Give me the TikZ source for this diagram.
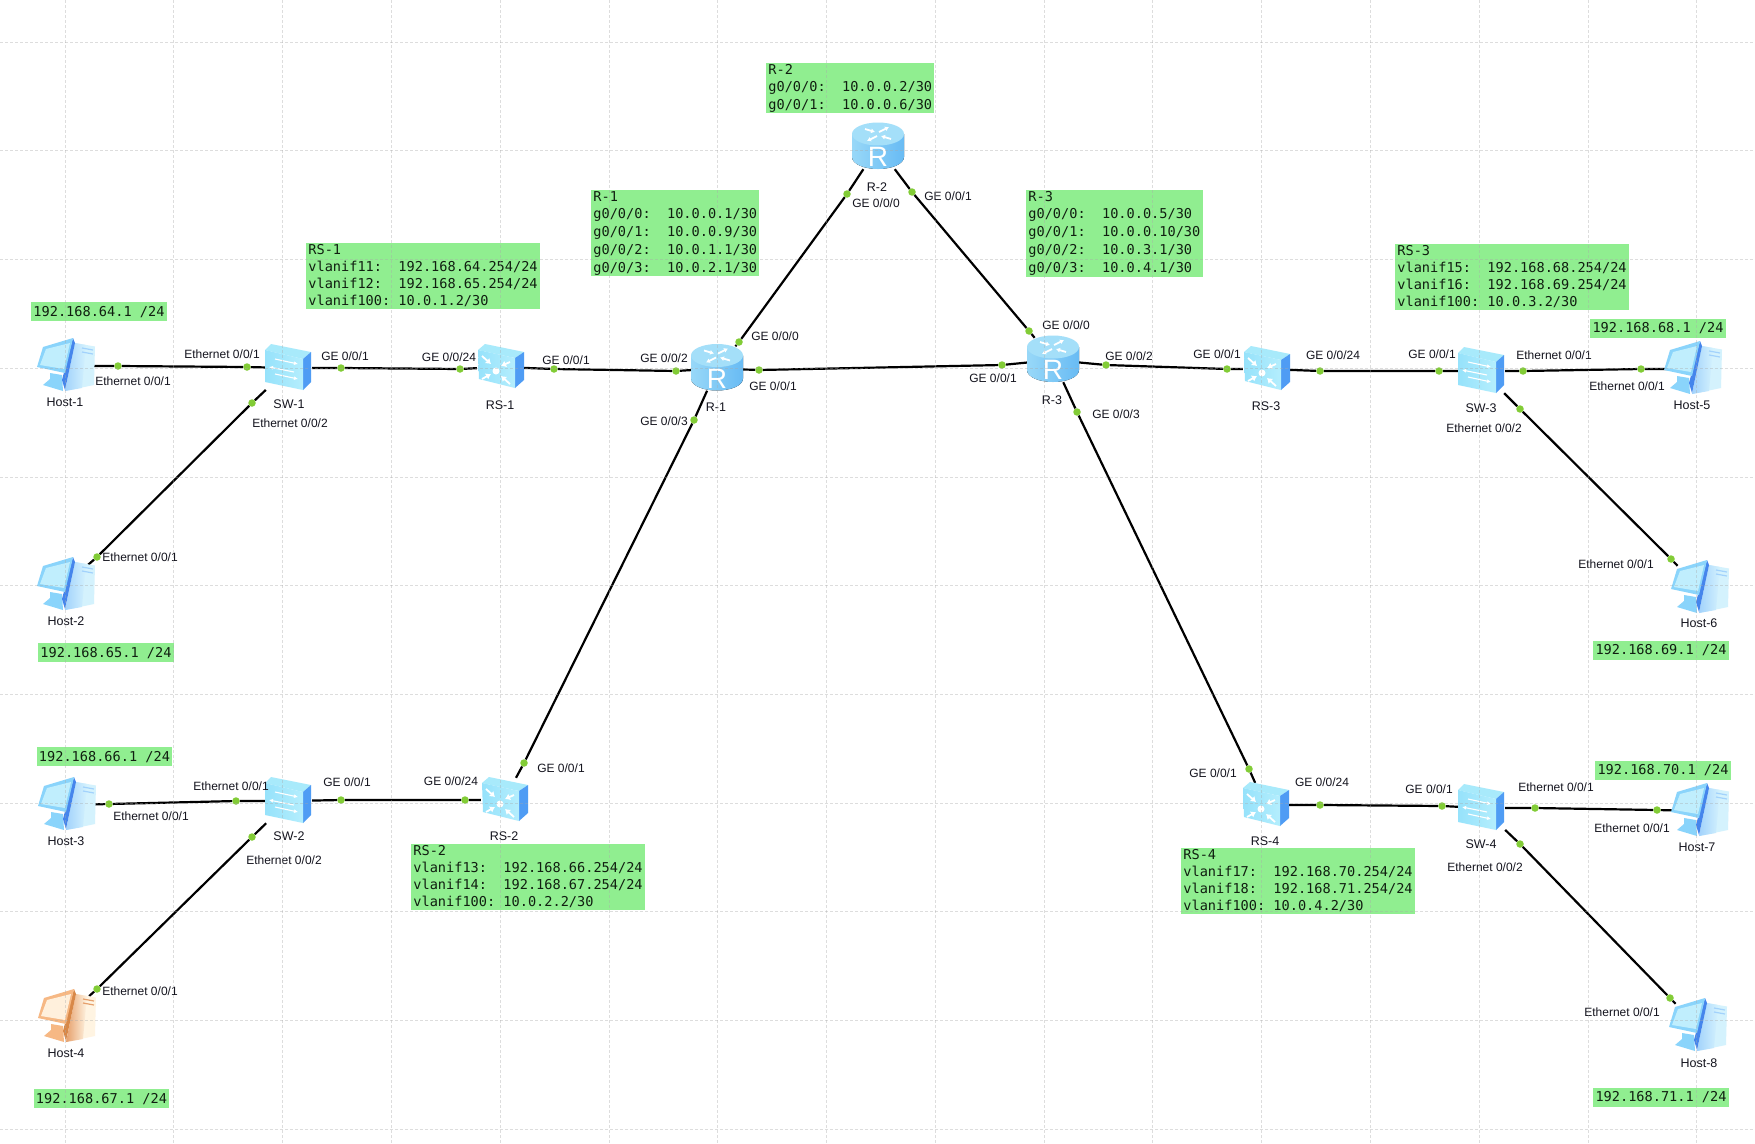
\documentclass[tikz,border=0pt]{standalone}
\usepackage{fontspec}
\setmainfont{Liberation Sans}
\newfontfamily\ipfont{DejaVu Sans Mono}
\usepackage{tikz}
\usetikzlibrary{arrows.meta}
\definecolor{verdecaja}{HTML}{90EE90}
\definecolor{verdepunto}{HTML}{82CC36}
\definecolor{rejilla}{HTML}{A8A8A8}
\definecolor{textoport}{HTML}{14141E}
\definecolor{textoip}{HTML}{101E10}
\definecolor{routertop}{HTML}{A4DFF9}
\definecolor{routerleft}{HTML}{98D8F8}
\definecolor{routerright}{HTML}{68BBF4}
\definecolor{swtop}{HTML}{A8EAFB}
\definecolor{swfront}{HTML}{96E2FB}
\definecolor{swfrontb}{HTML}{B4EEFD}
\definecolor{swside}{HTML}{4F9CF4}
\definecolor{hostpale}{HTML}{D4F2FD}
\definecolor{hostscreen}{HTML}{C0EEFD}
\definecolor{hostframe}{HTML}{8AD4FB}
\definecolor{hoststrip}{HTML}{4585EC}
\definecolor{hosttower}{HTML}{A2D2FC}
\newcommand{\filabox}{\rule[-2.8pt]{0pt}{17pt}}
\newcommand{\filaip}{\rule[-4pt]{0pt}{17pt}}
\tikzset{
  gridline/.style={rejilla,dash pattern=on 3pt off 2pt,line width=.8pt,opacity=.38},
  link/.style={black,line width=2.2pt},
  portdot/.style={circle,fill=verdepunto,inner sep=0pt,minimum size=7.5pt},
  devbox/.style={inner sep=0pt,minimum width=46pt,minimum height=44pt},
  devname/.style={inner sep=0pt,text=textoport,font=\fontsize{12.5}{14}\selectfont,text height=9pt,text depth=0pt},
  portword/.style={inner sep=0pt,text=textoport,font=\fontsize{12}{14}\selectfont,text height=9pt,text depth=0pt},
  greenbox/.style={fill=verdecaja,text=textoip,inner xsep=2.2pt,inner ysep=1pt,
    font=\ipfont\fontsize{13.6}{17}\selectfont},
  ipbox/.style={greenbox,execute at begin node=\filaip},
  infobox/.style={greenbox,anchor=north west,align=left,execute at begin node=\filabox},
  routerpic/.pic={
    \fill[left color=routerleft,right color=routerright] (-26,-13) -- (-26,10)
      .. controls (-26,17) and (-14,22) .. (0,22)
      .. controls (14,22) and (26,17) .. (26,10) -- (26,-13) -- cycle;
    \fill[routertop] (0,-13) ellipse[x radius=26,y radius=11.5];
    \draw[white,line width=1.8pt,-{Latex[length=4pt,width=5pt]}] (-13,-18) -- (-3,-15);
    \draw[white,line width=1.8pt,-{Latex[length=4pt,width=5pt]}] (13,-8) -- (3,-11);
    \draw[white,line width=1.8pt,-{Latex[length=4pt,width=5pt]}] (-1,-11) -- (-11,-6);
    \draw[white,line width=1.8pt,-{Latex[length=4pt,width=5pt]}] (1,-15) -- (11,-20);
    \node[inner sep=0pt,text=white,font=\fontsize{28}{28}\selectfont] (-letra) at (0,10) {R};
  },
  swpic/.pic={
    \fill[swtop] (-24,-18) -- (-18,-24) -- (22,-16) -- (14,-9) -- cycle;
    \fill[swside] (14,-9) -- (22,-16) -- (22,14) -- (14,22) -- cycle;
    \shade[left color=swfront,right color=swfrontb] (-24,-18) -- (14,-9) -- (14,22) -- (-24,14) -- cycle;
    \draw[white,line width=1.1pt,-{Latex[length=4pt,width=4pt]}] (-14,-9) -- (9,-4);
    \draw[white,line width=1.1pt,{Latex[length=4pt,width=4pt]}-] (-20,-1) -- (5,4);
    \draw[white,line width=1.1pt,-{Latex[length=4pt,width=4pt]}] (-14,6) -- (9,11);
  },
  rspic/.pic={
    \fill[swtop] (-22,-17) -- (-15,-23) -- (24,-15) -- (15,-9) -- cycle;
    \fill[swside] (15,-9) -- (24,-15) -- (24,13) -- (15,21) -- cycle;
    \shade[left color=swfront,right color=swfrontb] (-22,-17) -- (15,-9) -- (15,21) -- (-21,12) -- cycle;
    \fill[white] (-4,4) circle[radius=3.5];
    \draw[white,line width=1.8pt,-{Latex[length=5pt,width=7pt]}] (-18,-11) -- (-9,-3);
    \draw[white,line width=1.8pt,-{Latex[length=5pt,width=7pt]}] (10,-5) -- (1,-1);
    \draw[white,line width=1.8pt,-{Latex[length=5pt,width=7pt]}] (-18,12) -- (-9,7);
    \draw[white,line width=1.8pt,-{Latex[length=5pt,width=7pt]}] (10,17) -- (1,9);
  },
  hostpic/.pic={
    \fill[hostpale] (10,-23) -- (30,-19.5) -- (29,19) -- (0,25) -- cycle;
    \shade[left color=hosttower,right color=hostpale] (10,-23) -- (21,-21) -- (17,22) -- (0,25) -- cycle;
    \draw[hosttower,line width=1.2pt] (17,-18) -- (28,-16) (17,-14) -- (28,-12);
    \fill[hostframe] (-15,7) -- (-3,9) -- (-2,25) -- (-22,19) -- (-15,13) -- cycle;
    \fill[hoststrip] (8,-28) -- (10,-23) -- (0,24) -- (-3,14) -- cycle;
    \fill[hostframe] (-22,-19) -- (8,-28) -- (0,7) -- (-28,1) -- cycle;
    \fill[hostscreen] (-19,-17) -- (5,-23) -- (-1,3) -- (-25,-1) -- cycle;
  }
}
\begin{document}
\begin{tikzpicture}[x=1pt,y=-1pt]
\fill[white] (0,0) rectangle (1755,1143);
\useasboundingbox (0,0) rectangle (1755,1143);

\node[devbox] (h1) at (65,366) {};
\node[devbox] (h2) at (65,585) {};
\node[devbox] (h3) at (66,805) {};
\node[devbox] (h4) at (66,1017) {};
\node[devbox] (h5) at (1692,369) {};
\node[devbox] (h6) at (1699,588) {};
\node[devbox] (h7) at (1699,811) {};
\node[devbox] (h8) at (1697,1026) {};
\node[devbox] (sw1) at (289,368) {};
\node[devbox] (sw2) at (289,801) {};
\node[devbox] (sw3) at (1482,371) {};
\node[devbox] (sw4) at (1482,808) {};
\node[devbox] (rs1) at (500,367) {};
\node[devbox] (rs2) at (504,800) {};
\node[devbox] (rs3) at (1266,369) {};
\node[devbox] (rs4) at (1265,805) {};
\node[devbox] (r1) at (717,368.5) {};
\node[devbox] (r2) at (878,147) {};
\node[devbox] (r3) at (1053,360) {};

\node[portdot] (d1a) at (118,366) {};
\node[portdot] (d1b) at (247,367) {};
\node[portdot] (d2a) at (341,368) {};
\node[portdot] (d2b) at (460,369) {};
\node[portdot] (d3a) at (554,369) {};
\node[portdot] (d3b) at (676,371) {};
\node[portdot] (d4a) at (739,342) {};
\node[portdot] (d4b) at (847,194) {};
\node[portdot] (d5a) at (912,192) {};
\node[portdot] (d5b) at (1029,331) {};
\node[portdot] (d6a) at (759,370) {};
\node[portdot] (d6b) at (1002,365) {};
\node[portdot] (d7a) at (694,420) {};
\node[portdot] (d7b) at (524,763) {};
\node[portdot] (d8a) at (1106,365) {};
\node[portdot] (d8b) at (1227,369) {};
\node[portdot] (d9a) at (1320,371) {};
\node[portdot] (d9b) at (1439,371) {};
\node[portdot] (d10a) at (1523,371) {};
\node[portdot] (d10b) at (1641,369) {};
\node[portdot] (d11a) at (1520,409) {};
\node[portdot] (d11b) at (1671,559) {};
\node[portdot] (d12a) at (252,403) {};
\node[portdot] (d12b) at (97,557) {};
\node[portdot] (d13a) at (109,804) {};
\node[portdot] (d13b) at (236,801) {};
\node[portdot] (d14a) at (341,800) {};
\node[portdot] (d14b) at (465,800) {};
\node[portdot] (d15a) at (252,837) {};
\node[portdot] (d15b) at (97,989) {};
\node[portdot] (d16a) at (1077,412) {};
\node[portdot] (d16b) at (1249,769) {};
\node[portdot] (d17a) at (1320,805) {};
\node[portdot] (d17b) at (1442,806) {};
\node[portdot] (d18a) at (1535,808) {};
\node[portdot] (d18b) at (1657,810) {};
\node[portdot] (d19a) at (1520,844) {};
\node[portdot] (d19b) at (1670,998) {};

\draw[link] (h1)--(d1a)--(d1b)--(sw1);
\draw[link] (sw1)--(d2a)--(d2b)--(rs1);
\draw[link] (rs1)--(d3a)--(d3b)--(r1);
\draw[link] (r1)--(d4a)--(d4b)--(r2);
\draw[link] (r2)--(d5a)--(d5b)--(r3);
\draw[link] (r1)--(d6a)--(d6b)--(r3);
\draw[link] (r1)--(d7a)--(d7b)--(rs2);
\draw[link] (r3)--(d8a)--(d8b)--(rs3);
\draw[link] (rs3)--(d9a)--(d9b)--(sw3);
\draw[link] (sw3)--(d10a)--(d10b)--(h5);
\draw[link] (sw3)--(d11a)--(d11b)--(h6);
\draw[link] (sw1)--(d12a)--(d12b)--(h2);
\draw[link] (h3)--(d13a)--(d13b)--(sw2);
\draw[link] (sw2)--(d14a)--(d14b)--(rs2);
\draw[link] (sw2)--(d15a)--(d15b)--(h4);
\draw[link] (r3)--(d16a)--(d16b)--(rs4);
\draw[link] (rs4)--(d17a)--(d17b)--(sw4);
\draw[link] (sw4)--(d18a)--(d18b)--(h7);
\draw[link] (sw4)--(d19a)--(d19b)--(h8);

\pic (ih1) at (h1) {hostpic};
\pic (ih2) at (h2) {hostpic};
\pic (ih3) at (h3) {hostpic};
\pic (ih5) at (h5) {hostpic};
\pic (ih6) at (h6) {hostpic};
\pic (ih7) at (h7) {hostpic};
\pic (ih8) at (h8) {hostpic};
\begin{scope}
\definecolor{hostpale}{HTML}{FFF4E2}
\definecolor{hosttower}{HTML}{E6A06C}
\definecolor{hostframe}{HTML}{F6B884}
\definecolor{hostscreen}{HTML}{FFF0DC}
\definecolor{hoststrip}{HTML}{D88848}
\pic (ih4) at (h4) {hostpic};
\end{scope}
\pic (isw1) at (sw1) {swpic};
\pic (isw2) at (sw2) {swpic};
\pic (isw3) at (sw3) {swpic};
\pic (isw4) at (sw4) {swpic};
\pic (irs1) at (rs1) {rspic};
\pic (irs2) at (rs2) {rspic};
\pic (irs3) at (rs3) {rspic};
\pic (irs4) at (rs4) {rspic};
\pic (ir1) at (r1) {routerpic};
\pic (ir2) at (r2) {routerpic};
\pic (ir3) at (r3) {routerpic};

\node[devname] (nh1) at (65,402) {Host-1};
\node[devname] (nh2) at (66,621) {Host-2};
\node[devname] (nh3) at (66,841) {Host-3};
\node[devname] (nh4) at (66,1053) {Host-4};
\node[devname] (nh5) at (1692,405) {Host-5};
\node[devname] (nh6) at (1699,623) {Host-6};
\node[devname] (nh7) at (1697,847) {Host-7};
\node[devname] (nh8) at (1699,1063) {Host-8};
\node[devname] (nsw1) at (289,404) {SW-1};
\node[devname] (nsw2) at (289,836) {SW-2};
\node[devname] (nsw3) at (1481,408) {SW-3};
\node[devname] (nsw4) at (1481,844) {SW-4};
\node[devname] (nrs1) at (500,405) {RS-1};
\node[devname] (nrs2) at (504,836) {RS-2};
\node[devname] (nrs3) at (1266,406) {RS-3};
\node[devname] (nrs4) at (1265,841) {RS-4};
\node[devname] (nr1) at (716,407) {R-1};
\node[devname] (nr2) at (877,187) {R-2};
\node[devname] (nr3) at (1052,400) {R-3};

\node[portword] (t1a) at (133,381) {Ethernet 0/0/1};
\node[portword] (t1b) at (222,354) {Ethernet 0/0/1};
\node[portword] (t2a) at (345,356) {GE 0/0/1};
\node[portword] (t2b) at (449,357) {GE 0/0/24};
\node[portword] (t3a) at (566,360) {GE 0/0/1};
\node[portword] (t3b) at (664,358) {GE 0/0/2};
\node[portword] (t4a) at (775,336) {GE 0/0/0};
\node[portword] (t4b) at (876,203) {GE 0/0/0};
\node[portword] (t5a) at (948,196) {GE 0/0/1};
\node[portword] (t5b) at (1066,325) {GE 0/0/0};
\node[portword] (t6a) at (773,386) {GE 0/0/1};
\node[portword] (t6b) at (993,378) {GE 0/0/1};
\node[portword] (t7a) at (664,421) {GE 0/0/3};
\node[portword] (t7b) at (561,768) {GE 0/0/1};
\node[portword] (t8a) at (1129,356) {GE 0/0/2};
\node[portword] (t8b) at (1217,354) {GE 0/0/1};
\node[portword] (t9a) at (1333,355) {GE 0/0/24};
\node[portword] (t9b) at (1432,354) {GE 0/0/1};
\node[portword] (t10a) at (1554,355) {Ethernet 0/0/1};
\node[portword] (t10b) at (1627,386) {Ethernet 0/0/1};
\node[portword] (t11a) at (1484,428) {Ethernet 0/0/2};
\node[portword] (t11b) at (1616,564) {Ethernet 0/0/1};
\node[portword] (t12a) at (290,423) {Ethernet 0/0/2};
\node[portword] (t12b) at (140,557) {Ethernet 0/0/1};
\node[portword] (t13a) at (151,816) {Ethernet 0/0/1};
\node[portword] (t13b) at (231,786) {Ethernet 0/0/1};
\node[portword] (t14a) at (347,782) {GE 0/0/1};
\node[portword] (t14b) at (451,781) {GE 0/0/24};
\node[portword] (t15a) at (284,860) {Ethernet 0/0/2};
\node[portword] (t15b) at (140,991) {Ethernet 0/0/1};
\node[portword] (t16a) at (1116,414) {GE 0/0/3};
\node[portword] (t16b) at (1213,773) {GE 0/0/1};
\node[portword] (t17a) at (1322,782) {GE 0/0/24};
\node[portword] (t17b) at (1429,789) {GE 0/0/1};
\node[portword] (t18a) at (1556,787) {Ethernet 0/0/1};
\node[portword] (t18b) at (1632,828) {Ethernet 0/0/1};
\node[portword] (t19a) at (1485,867) {Ethernet 0/0/2};
\node[portword] (t19b) at (1622,1012) {Ethernet 0/0/1};

\node[infobox] (cajar2) at (766,63) {R-2\\\filabox g0/0/0:~~10.0.0.2/30\\\filabox g0/0/1:~~10.0.0.6/30};
\node[infobox] (cajar1) at (591,190) {R-1\\\filabox g0/0/0:~~10.0.0.1/30\\\filabox g0/0/1:~~10.0.0.9/30\\\filabox g0/0/2:~~10.0.1.1/30\\\filabox g0/0/3:~~10.0.2.1/30};
\node[infobox] (cajar3) at (1026,190) {R-3\\\filabox g0/0/0:~~10.0.0.5/30\\\filabox g0/0/1:~~10.0.0.10/30\\\filabox g0/0/2:~~10.0.3.1/30\\\filabox g0/0/3:~~10.0.4.1/30};
\node[infobox] (cajars1) at (306,243) {RS-1\\\filabox vlanif11:~~192.168.64.254/24\\\filabox vlanif12:~~192.168.65.254/24\\\filabox vlanif100:~10.0.1.2/30};
\node[infobox] (cajars2) at (411,844) {RS-2\\\filabox vlanif13:~~192.168.66.254/24\\\filabox vlanif14:~~192.168.67.254/24\\\filabox vlanif100:~10.0.2.2/30};
\node[infobox] (cajars3) at (1395,244) {RS-3\\\filabox vlanif15:~~192.168.68.254/24\\\filabox vlanif16:~~192.168.69.254/24\\\filabox vlanif100:~10.0.3.2/30};
\node[infobox] (cajars4) at (1181,848) {RS-4\\\filabox vlanif17:~~192.168.70.254/24\\\filabox vlanif18:~~192.168.71.254/24\\\filabox vlanif100:~10.0.4.2/30};

\node[ipbox] (ip1) at (99,311.5) {192.168.64.1 /24};
\node[ipbox] (ip2) at (106,652.5) {192.168.65.1 /24};
\node[ipbox] (ip3) at (104.5,756.5) {192.168.66.1 /24};
\node[ipbox] (ip4) at (101.5,1098.5) {192.168.67.1 /24};
\node[ipbox] (ip5) at (1658,328) {192.168.68.1 /24};
\node[ipbox] (ip6) at (1661,650) {192.168.69.1 /24};
\node[ipbox] (ip7) at (1663,770) {192.168.70.1 /24};
\node[ipbox] (ip8) at (1661,1097) {192.168.71.1 /24};

% rejilla por encima de todo
\draw[gridline] (65,0)--(65,1143) (173.8,0)--(173.8,1143) (282.6,0)--(282.6,1143)
  (391.3,0)--(391.3,1143) (500.1,0)--(500.1,1143) (608.9,0)--(608.9,1143)
  (717.7,0)--(717.7,1143) (826.5,0)--(826.5,1143) (935.2,0)--(935.2,1143)
  (1044,0)--(1044,1143) (1152.8,0)--(1152.8,1143) (1261.6,0)--(1261.6,1143)
  (1370.4,0)--(1370.4,1143) (1479.1,0)--(1479.1,1143) (1587.9,0)--(1587.9,1143)
  (1696.7,0)--(1696.7,1143);
\draw[gridline] (0,42)--(1755,42) (0,150.7)--(1755,150.7) (0,259.5)--(1755,259.5)
  (0,368.2)--(1755,368.2) (0,476.9)--(1755,476.9) (0,585.7)--(1755,585.7)
  (0,694.4)--(1755,694.4) (0,803.1)--(1755,803.1) (0,911.8)--(1755,911.8)
  (0,1020.6)--(1755,1020.6) (0,1129.3)--(1755,1129.3);
\end{tikzpicture}
\end{document}
